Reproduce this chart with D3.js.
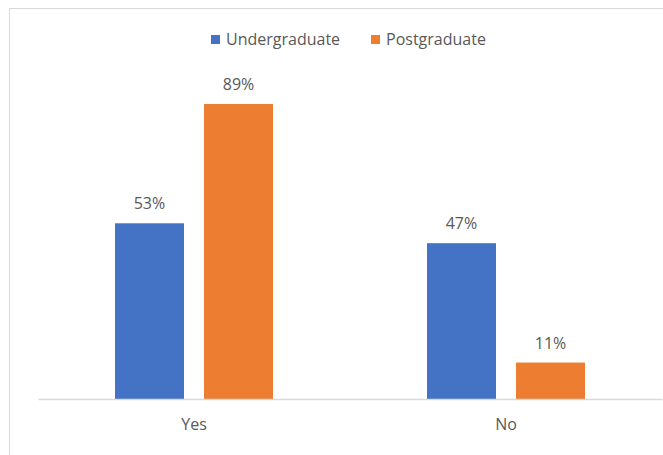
<!DOCTYPE html>
<html>
<head>
<meta charset="utf-8">
<script src="https://cdn.jsdelivr.net/npm/d3@7"></script>
<style>
  body { margin: 0; background: #fff; }
  text { font-family: "Open Sans", Lato, sans-serif; fill: #595959; }
</style>
</head>
<body>
<div id="chart"></div>
<script>
const categories = ["Yes", "No"];
const seriesNames = ["Undergraduate", "Postgraduate"];
const undergraduate = [53, 47];
const postgraduate = [89, 11];
const colors = ["#4472C4", "#ED7D31"];

const W = 663, H = 455;
const baseY = 399;

const svg = d3.select("#chart").append("svg")
    .attr("width", W)
    .attr("height", H);

// chart frame (cropped on the right and bottom)
svg.append("rect")
    .attr("x", 9.5).attr("y", 8.5)
    .attr("width", W + 10).attr("height", H + 10)
    .attr("fill", "none")
    .attr("stroke", "#d9d9d9");

let x0 = d3.scaleBand()
    .domain(categories)
    .range([38, 662]);

let x1 = d3.scaleBand()
    .domain(seriesNames)
    .range([78, 236])
    .paddingInner(0.225);

let y = d3.scaleLinear()
    .domain([0, 100])
    .range([baseY, 67.5]);

let rows = categories.map(function(c, i) {
    return {cat: c, values: [undergraduate[i], postgraduate[i]]};
});

let groups = svg.selectAll("g.grp")
    .data(rows)
    .enter().append("g")
    .attr("transform", function(d) {
        return "translate(" + (x0(d.cat) - 78 + (x0.bandwidth() - 158) / 2) + ",0)";
    });

groups.selectAll("rect")
    .data(function(d) {
        return d.values.map(function(v, i) { return {name: seriesNames[i], v: v, i: i}; });
    })
    .enter().append("rect")
    .attr("x", function(d) { return x1(d.name); })
    .attr("y", function(d) { return y(d.v); })
    .attr("width", x1.bandwidth())
    .attr("height", function(d) { return baseY - y(d.v); })
    .attr("fill", function(d) { return colors[d.i]; });

groups.selectAll("text.lbl")
    .data(function(d) {
        return d.values.map(function(v, i) { return {name: seriesNames[i], v: v}; });
    })
    .enter().append("text")
    .attr("class", "lbl")
    .attr("x", function(d) { return x1(d.name) + x1.bandwidth() / 2; })
    .attr("y", function(d) { return y(d.v) - 14; })
    .attr("text-anchor", "middle")
    .style("font-size", "16px")
    .text(function(d) { return d.v + "%"; });

// category axis
let axis = svg.append("g")
    .attr("transform", "translate(0," + baseY + ")")
    .call(d3.axisBottom(x0).tickSize(0).tickPadding(20));
axis.select(".domain").attr("stroke", "#d9d9d9").attr("stroke-width", 1.5);
axis.selectAll("text")
    .style("font-size", "16px")
    .style("font-family", "'Open Sans', Lato, sans-serif")
    .attr("fill", "#595959");

// legend
let legendX = [211, 371];
let legend = svg.selectAll("g.leg")
    .data(seriesNames)
    .enter().append("g")
    .attr("transform", function(d, i) { return "translate(" + legendX[i] + ",35)"; });
legend.append("rect")
    .attr("width", 9).attr("height", 9)
    .attr("fill", function(d, i) { return colors[i]; });
legend.append("text")
    .attr("x", 15).attr("y", 10)
    .style("font-size", "16px")
    .text(function(d) { return d; });
</script>
</body>
</html>
